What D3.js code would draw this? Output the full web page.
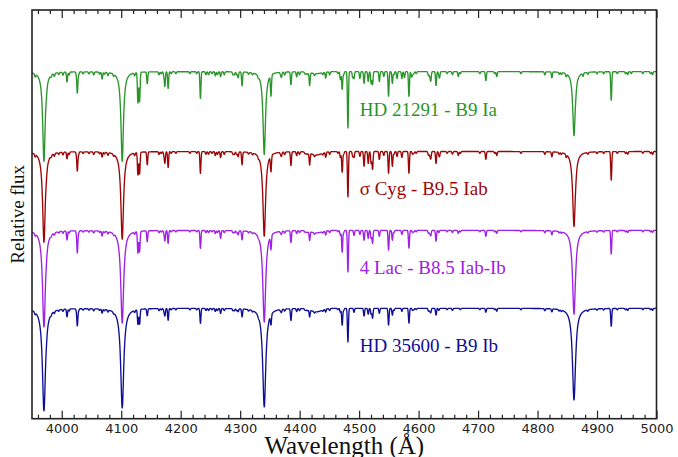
<!DOCTYPE html>
<html><head><meta charset="utf-8">
<script src="https://cdn.jsdelivr.net/npm/d3@7"></script>
<style>body{margin:0;background:#fff}svg{display:block}</style>
</head><body>
<svg id="c" width="678" height="457"></svg>
<script>
// ---------- data ----------
const wavelengthRange = [3950, 5000];
const majorTicks = [4000, 4100, 4200, 4300, 4400, 4500, 4600, 4700, 4800, 4900, 5000];
const minorTicks = d3.range(3960, 5000, 20).filter(v => v % 100 !== 0);
const starNames = ["HD 21291 - B9 Ia", "σ Cyg - B9.5 Iab", "4 Lac - B8.5 Iab-Ib", "HD 35600 - B9 Ib"];
const starColors = ["#2a962a", "#9c0606", "#a020e6", "#0f0f96"];
const starOffsets = [2.52, 1.71, 0.91, 0.12];
// Balmer lines: Hε, Hδ, Hγ, Hβ
const balmerCenters = [3970.1, 4101.7, 4340.5, 4861.3];
const greenBalmer  = [0.91, 0.91, 0.84, 0.65];
const redBalmer    = [0.92, 0.89, 0.86, 0.76];
const purpleBalmer = [0.98, 0.94, 0.93, 0.85];
const blueBalmer   = [1.04, 1.01, 1.00, 0.93];
const balmerWidths = [2.5, 2.7, 2.9, 3.1];
// metal / He lines [wavelength, depth]
const greenLines = [[4008.9,0.10],[4026.2,0.21],[4067.9,0.07],[4128.1,0.31],[4130.9,0.30],[4143.8,0.12],[4173.5,0.14],[4178.9,0.17],[4233.2,0.27],[4258.2,0.04],[4267.1,0.05],[4296.6,0.06],[4303.2,0.14],[4351.8,0.21],[4369.4,0.05],[4385.4,0.13],[4395.0,0.05],[4416.8,0.13],[4443.8,0.06],[4468.5,0.08],[4471.5,0.18],[4481.2,0.57],[4489.2,0.06],[4491.4,0.07],[4501.3,0.07],[4508.3,0.12],[4515.3,0.10],[4520.2,0.12],[4522.6,0.13],[4534.0,0.10],[4541.5,0.05],[4549.5,0.25],[4555.9,0.12],[4563.8,0.07],[4571.9,0.07],[4576.3,0.06],[4583.8,0.25],[4588.2,0.05],[4620.5,0.09],[4629.3,0.14],[4635.3,0.05],[4666.8,0.05],[4713.1,0.09],[4731.4,0.05],[4824.1,0.06],[4848.2,0.03],[4876.4,0.03],[4923.9,0.29],[4957.6,0.02],[4993.4,0.03]];
const redLines = [[4008.9,0.07],[4026.2,0.19],[4067.9,0.05],[4128.1,0.23],[4130.9,0.22],[4143.8,0.13],[4173.5,0.11],[4178.9,0.16],[4233.2,0.22],[4258.2,0.04],[4267.1,0.06],[4296.6,0.05],[4303.2,0.13],[4351.8,0.16],[4369.4,0.04],[4385.4,0.14],[4395.0,0.04],[4416.8,0.12],[4443.8,0.05],[4468.5,0.06],[4471.5,0.21],[4481.2,0.46],[4489.2,0.05],[4491.4,0.06],[4501.3,0.05],[4508.3,0.15],[4515.3,0.12],[4520.2,0.12],[4522.6,0.18],[4534.0,0.08],[4541.5,0.04],[4549.5,0.22],[4555.9,0.15],[4563.8,0.05],[4571.9,0.06],[4583.8,0.22],[4620.5,0.07],[4629.3,0.12],[4635.3,0.04],[4666.8,0.04],[4713.1,0.08],[4731.4,0.04],[4824.1,0.05],[4848.2,0.03],[4923.9,0.29],[4993.4,0.03]];
const purpleLines = [[4008.9,0.09],[4026.2,0.22],[4067.9,0.05],[4128.1,0.22],[4130.9,0.21],[4143.8,0.11],[4173.5,0.10],[4178.9,0.13],[4233.2,0.18],[4258.2,0.03],[4267.1,0.08],[4296.6,0.04],[4303.2,0.09],[4351.8,0.14],[4369.4,0.03],[4385.4,0.12],[4395.0,0.03],[4416.8,0.09],[4443.8,0.04],[4468.5,0.05],[4471.5,0.22],[4481.2,0.42],[4491.4,0.05],[4501.3,0.04],[4508.3,0.10],[4515.3,0.08],[4520.2,0.08],[4522.6,0.13],[4534.0,0.06],[4549.5,0.20],[4555.9,0.10],[4571.9,0.04],[4583.8,0.18],[4620.5,0.05],[4629.3,0.11],[4666.8,0.03],[4713.1,0.06],[4731.4,0.03],[4824.1,0.04],[4923.9,0.24],[4993.4,0.02]];
const blueLines = [[4008.9,0.08],[4026.2,0.17],[4067.9,0.04],[4128.1,0.15],[4130.9,0.15],[4143.8,0.07],[4173.5,0.07],[4178.9,0.12],[4233.2,0.15],[4258.2,0.03],[4267.1,0.05],[4296.6,0.03],[4303.2,0.08],[4351.8,0.10],[4369.4,0.03],[4385.4,0.12],[4395.0,0.03],[4416.8,0.07],[4443.8,0.03],[4468.5,0.04],[4471.5,0.17],[4481.2,0.34],[4491.4,0.04],[4508.3,0.08],[4515.3,0.06],[4520.2,0.06],[4522.6,0.10],[4534.0,0.05],[4549.5,0.17],[4555.9,0.07],[4571.9,0.03],[4583.8,0.15],[4620.5,0.04],[4629.3,0.07],[4713.1,0.04],[4731.4,0.03],[4824.1,0.03],[4923.9,0.18],[4993.4,0.02]];
// weak lines seen as texture on every continuum [wavelength, depth]
const weakLines = [[3955.3,0.03],[3974.2,0.03],[3982.0,0.02],[3987.6,0.03],[3995.0,0.02],[4002.1,0.03],[4012.4,0.03],[4024.5,0.02],[4028.3,0.03],[4036.0,0.02],[4045.8,0.02],[4053.8,0.03],[4063.6,0.02],[4071.7,0.02],[4077.7,0.03],[4087.3,0.02],[4122.6,0.03],[4163.6,0.03],[4167.3,0.02],[4171.9,0.04],[4184.0,0.02],[4192.0,0.02],[4215.5,0.02],[4227.0,0.02],[4242.4,0.03],[4246.8,0.03],[4252.6,0.02],[4261.9,0.03],[4273.3,0.03],[4287.9,0.03],[4290.2,0.03],[4294.1,0.03],[4314.1,0.02],[4320.7,0.02],[4330.7,0.02],[4367.7,0.02],[4374.8,0.03],[4399.8,0.03],[4409.0,0.02],[4411.1,0.02],[4413.6,0.02],[4425.0,0.02],[4439.0,0.02],[4450.5,0.03],[4464.4,0.02],[4474.0,0.03],[4558.7,0.03],[4589.9,0.03],[4592.0,0.02],[4596.0,0.02],[4616.6,0.04],[4618.8,0.04],[4634.1,0.03],[4648.0,0.02],[4656.9,0.03],[4670.2,0.02],[4703.0,0.02],[4728.0,0.02],[4772.1,0.02],[4812.3,0.03],[4836.2,0.02],[4840.0,0.02],[4864.3,0.02],[4884.6,0.02],[4900.0,0.02],[4911.2,0.02],[4934.1,0.02],[4948.0,0.02],[4951.6,0.03],[4977.0,0.02],[4990.0,0.02]];
const weakScale = [1.0, 0.9, 0.7, 0.7];
// broad diffuse interstellar band near 4430 Å [centre, depth per star]
const dibCenter = 4428;
const dibDepth = [0.02, 0.035, 0.025, 0.035];
const allBalmer = [greenBalmer, redBalmer, purpleBalmer, blueBalmer];
const allLines = [greenLines, redLines, purpleLines, blueLines];

// ---------- layout ----------
const svg = d3.select("#c");
const L = 32, R = 656.5, T = 10, B = 418.7;
const x = d3.scaleLinear().domain(wavelengthRange).range([L, R]);
const y = d3.scaleLinear().domain([0, 4.145]).range([B, T]);

// build spectra from the line lists
const grid = d3.range(wavelengthRange[0], wavelengthRange[1] + 0.001, 0.2);
const sigma = 0.85;
const spectra = allLines.map((lines, i) => grid.map(w => {
  let f = 1 + starOffsets[i];
  balmerCenters.forEach((c, k) => {
    const d = (w - c) / balmerWidths[i];
    f -= allBalmer[i][k] / (1 + d * d);
  });
  lines.forEach(([c, dep]) => {
    const d = w - c;
    if (Math.abs(d) < 6) f -= dep * Math.exp(-d * d / (2 * sigma * sigma));
  });
  weakLines.forEach(([c, dep]) => {
    const d = w - c;
    if (Math.abs(d) < 6) f -= weakScale[i] * dep * Math.exp(-d * d / (2 * 0.9 * 0.9));
  });
  const dd = (w - dibCenter) / 9;
  f -= dibDepth[i] * Math.exp(-dd * dd / 2);
  return [w, f];
}));

svg.append("clipPath").attr("id", "clip").append("rect")
  .attr("x", L).attr("y", T).attr("width", R - L).attr("height", B - T);

const line = d3.line().x(d => x(d[0])).y(d => y(d[1]));
const g = svg.append("g").attr("clip-path", "url(#clip)");
spectra.forEach((s, i) => {
  g.append("path").datum(s).attr("d", line)
    .attr("fill", "none").attr("stroke", starColors[i])
    .attr("stroke-width", 1.35).attr("stroke-linejoin", "round");
});

// labels
starNames.forEach((n, i) => {
  svg.append("text").attr("x", x(4501)).attr("y", y(1 + starOffsets[i]) + 44)
    .attr("fill", starColors[i]).attr("font-family", "Liberation Serif, Times New Roman, serif")
    .attr("font-size", 19).text(n);
});

// axes
const axB = svg.append("g").attr("transform", `translate(0,${B})`)
  .call(d3.axisBottom(x).tickValues(majorTicks).tickSize(-8).tickPadding(5).tickFormat(d3.format("d")));
svg.append("g").attr("transform", `translate(0,${B})`)
  .call(d3.axisBottom(x).tickValues(minorTicks).tickSize(-4).tickFormat(""));
svg.append("g").attr("transform", `translate(0,${T})`)
  .call(d3.axisTop(x).tickValues(majorTicks).tickSize(-8).tickFormat(""));
svg.append("g").attr("transform", `translate(0,${T})`)
  .call(d3.axisTop(x).tickValues(minorTicks).tickSize(-4).tickFormat(""));
svg.selectAll(".domain").remove();
svg.selectAll(".tick line").attr("stroke", "#222").attr("stroke-width", 1.2);
axB.selectAll("text").attr("font-family", "DejaVu Sans, Verdana, sans-serif")
  .attr("font-size", 13).attr("fill", "#222");

svg.append("rect").attr("x", L).attr("y", T).attr("width", R - L).attr("height", B - T)
  .attr("fill", "none").attr("stroke", "#222").attr("stroke-width", 1.6);

svg.append("text").attr("x", (L + R) / 2).attr("y", 454).attr("text-anchor", "middle")
  .attr("font-family", "Liberation Serif, Times New Roman, serif").attr("font-size", 25)
  .attr("fill", "#111").text("Wavelength (Å)");
svg.append("text").attr("transform", `translate(24,${(T + B) / 2}) rotate(-90)`)
  .attr("text-anchor", "middle").attr("font-family", "Liberation Serif, Times New Roman, serif")
  .attr("font-size", 19).attr("fill", "#111").text("Relative flux");
</script>
</body></html>
